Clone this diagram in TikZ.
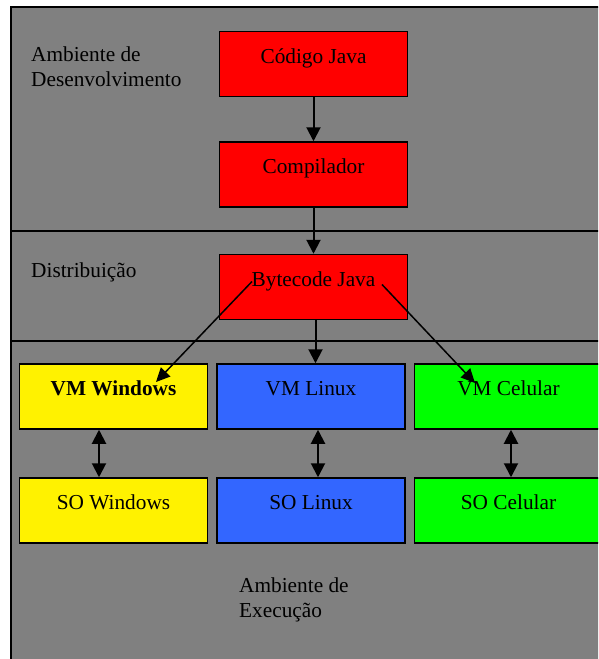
\documentclass[tikz,border=0pt]{standalone}
\usepackage{fontspec}
\setmainfont{Liberation Serif}
\usepackage{tikz}
\usetikzlibrary{arrows.meta,positioning}

\definecolor{panelgray}{HTML}{808080}
\definecolor{vmblue}{HTML}{3366FF}
\definecolor{vmgreen}{HTML}{00FF00}

\begin{document}
\begin{tikzpicture}[
  font=\fontsize{21.3pt}{24.5pt}\selectfont,
  on grid,
  box/.style={draw, line width=1.5pt, align=center, minimum height=65pt, minimum width=188pt,
    text height=12pt, text depth=14pt, inner sep=0pt},
  lbl/.style={align=left, inner sep=0pt},
  arrow/.style={-{Triangle[length=14pt,width=14pt]}, line width=2pt},
  darrow/.style={{Triangle[length=14pt,width=14pt]}-{Triangle[length=14pt,width=14pt]}, line width=2pt},
  thin arrow/.style={-{Triangle[length=14pt,width=13pt]}, line width=1.5pt}
]
  \useasboundingbox (0,0) rectangle (598pt,-659pt);
  \clip (0,0) rectangle (598pt,-659pt);

  % Panel and separators
  \draw[fill=panelgray, line width=1.5pt] (11pt,-7pt) rectangle (610pt,-670pt);
  \draw[line width=1.5pt] (11pt,-231pt) -- (610pt,-231pt);
  \draw[line width=1.5pt] (11pt,-341pt) -- (610pt,-341pt);

  % Labels
  \node[lbl, anchor=base west] (dev) at (31pt,-86pt) {Ambiente de\\Desenvolvimento};
  \node[lbl, anchor=base west] (dist) at (31pt,-277pt) {Distribuição};
  \node[lbl, anchor=base west] (exec) at (239pt,-617pt) {Ambiente de\\Execução};

  % Development and distribution
  \node[box, fill=red] (code) at (313.5pt,-64pt) {Código Java};
  \node[box, fill=red, below=110.5pt of code] (comp) {Compilador};
  \node[box, fill=red, below=112.5pt of comp] (byte) {Bytecode Java};

  % Virtual machines
  \node[box, fill=vmblue, below=109.5pt of byte, xshift=-2.5pt] (vmlin) {VM Linux};
  \node[box, fill=yellow, left=197.5pt of vmlin] (vmwin) {\bfseries VM Windows};
  \node[box, fill=vmgreen, right=197.5pt of vmlin] (vmcel) {VM Celular};

  % Operating systems
  \node[box, fill=yellow, below=114pt of vmwin] (sowin) {SO Windows};
  \node[box, fill=vmblue, below=114pt of vmlin] (solin) {SO Linux};
  \node[box, fill=vmgreen, below=114pt of vmcel] (socel) {SO Celular};

  % Arrows
  \draw[arrow] (code) -- (comp);
  \draw[arrow] (comp) -- (byte);
  \draw[arrow] ([xshift=2pt]byte.south) -- ([xshift=2pt]byte.south |- vmlin.north);
  \draw[thin arrow] ([shift={(-61.5pt,5.5pt)}]byte.center) -- ([shift={(42.5pt,14.5pt)}]vmwin.center);
  \draw[thin arrow] ([shift={(68.5pt,2.5pt)}]byte.center) -- ([shift={(-33.5pt,13.5pt)}]vmcel.center);

  \draw[darrow] ([xshift=-14.5pt]vmwin.south) -- ([xshift=-14.5pt]sowin.north);
  \draw[darrow] ([xshift=7pt]vmlin.south) -- ([xshift=7pt]solin.north);
  \draw[darrow] ([xshift=2.5pt]vmcel.south) -- ([xshift=2.5pt]socel.north);
\end{tikzpicture}
\end{document}
